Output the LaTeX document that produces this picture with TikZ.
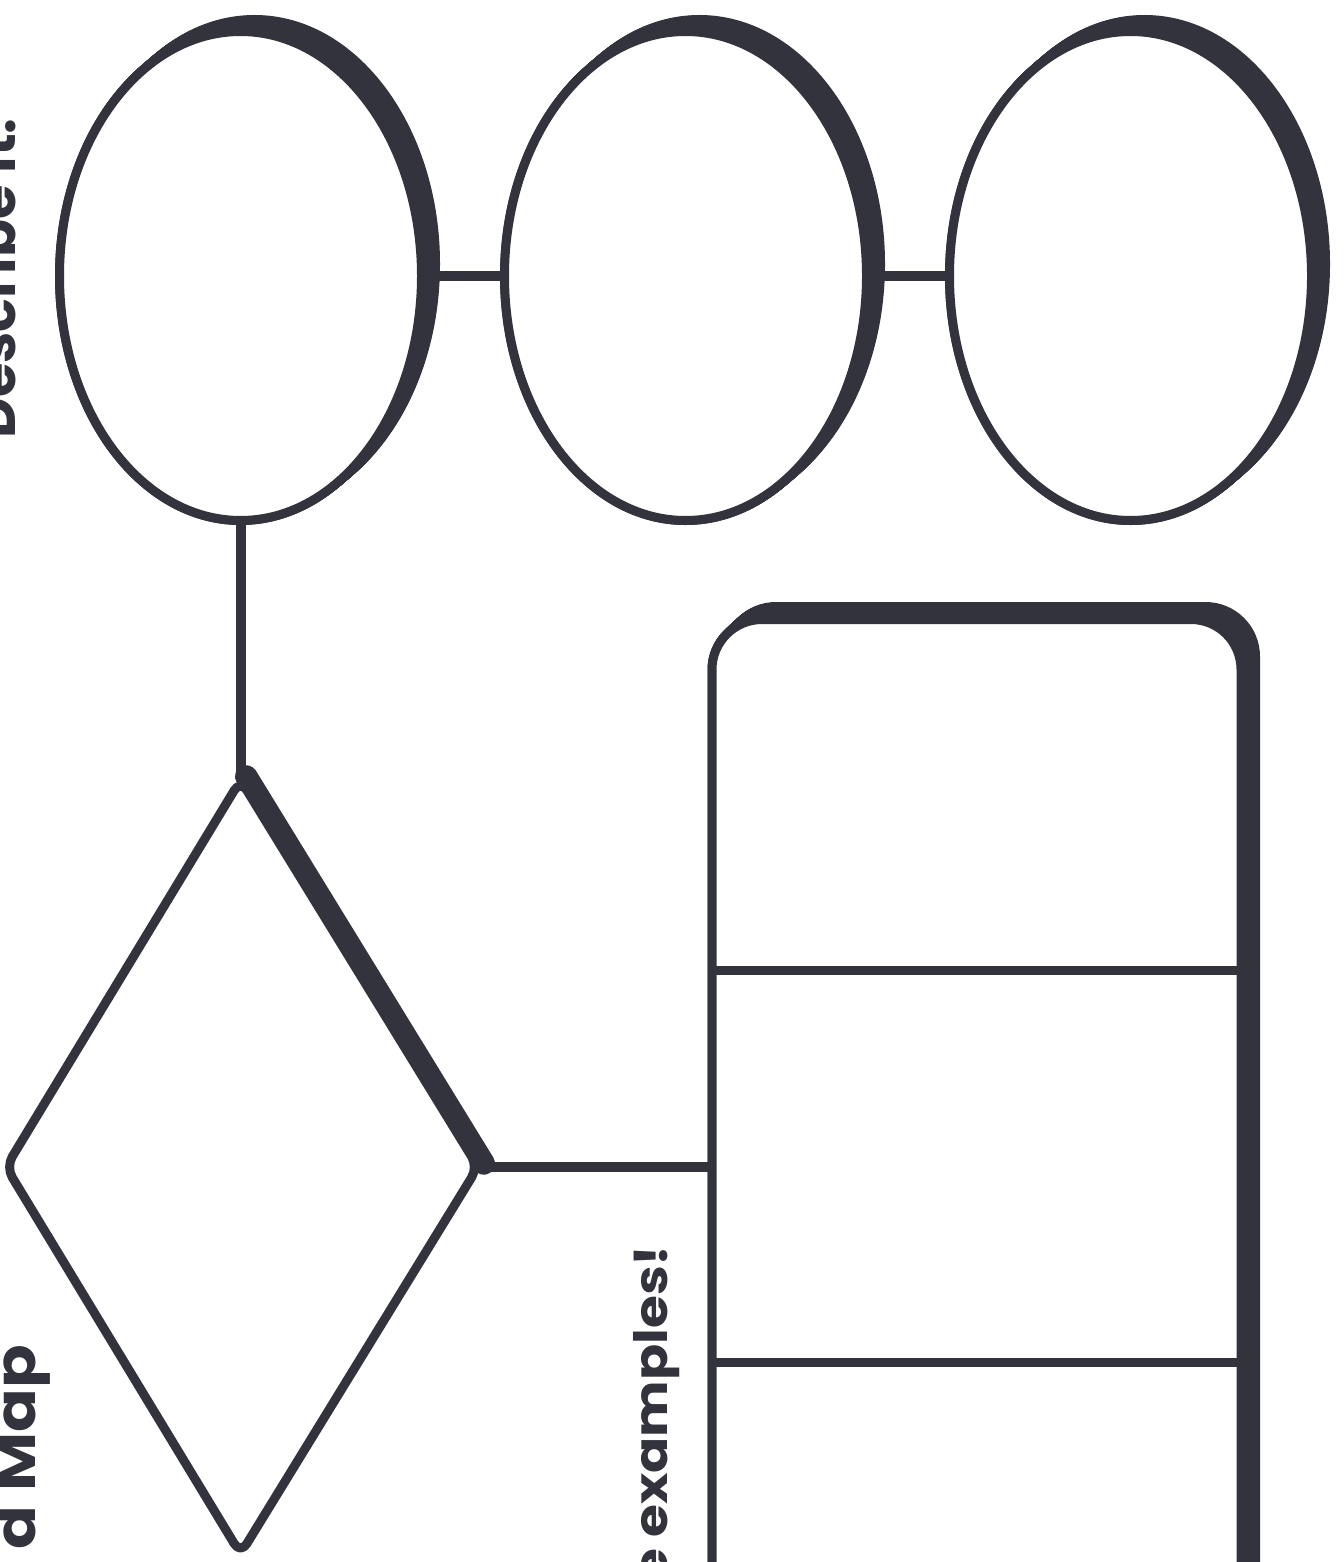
\documentclass[tikz,border=0pt]{standalone}
\usepackage{fontspec}
\usepackage{graphicx}
\newfontfamily\labfont{Poppins}
\usetikzlibrary{calc,shapes.geometric}
\definecolor{ink}{RGB}{50,51,60}
\begin{document}
\begin{tikzpicture}[x=1pt,y=-1pt,line join=round,
  outline/.style={draw=ink,line width=9pt},
  link/.style={draw=ink,line width=10pt},
  bubble/.style={outline,fill=white,ellipse,minimum width=362pt,minimum height=489pt,inner sep=0pt,outer sep=0pt},
  shadowfill/.style={fill=ink},
  biglab/.style={font=\labfont\bfseries\fontsize{56}{58}\selectfont,text=ink,inner sep=0pt,rotate=90,anchor=base east},
  smalllab/.style={font=\labfont\bfseries\fontsize{46}{48}\selectfont,text=ink,inner sep=0pt,rotate=90,anchor=base east}]
\fill[white] (0,0) rectangle (1343,1562);
\useasboundingbox (0,0) rectangle (1343,1562);
\clip (0,0) rectangle (1343,1562);

% extruded shadows of the bubbles (outer edge of the line swept up-right)
\foreach \cx in {240.5,685.5,1130.5}{
  \foreach \t in {0,0.05,...,1.001}{
    \fill[shadowfill] (\cx+14*\t,276-12*\t) ellipse [x radius=185.5, y radius=249];
  }
}
\node[bubble] (e1) at (240.5,276) {};
\node[bubble] (e2) at (685.5,276) {};
\node[bubble] (e3) at (1130.5,276) {};
\draw[link] (e1.east) -- (e2.west);
\draw[link] (e2.east) -- (e3.west);

% diamond
\coordinate (dT) at (240.5,780);
\coordinate (dR) at (478,1167);
\coordinate (dB) at (240.5,1554);
\coordinate (dL) at (6,1167);
\draw[link] (e1.south) -- (dT);
\draw[ink,line width=22.5pt,line cap=round] ($(dT)+(5.76,-3.52)$) -- ($(dR)+(5.76,-3.52)$);
\draw[outline,fill=white,rounded corners=12pt] (dT) -- (dR) -- (dB) -- (dL) -- cycle;

% box with extruded shadow
\foreach \t in {0,0.05,...,1.001}{
  \fill[shadowfill,rounded corners=54.5pt] (707.5+14*\t,615-13*\t) rectangle (1246+14*\t,1720);
}
\node[outline,fill=white,rectangle,rounded corners=50pt,minimum width=529pt,minimum height=1100pt,inner sep=0pt,outer sep=0pt,anchor=north west] (box) at (712,619.5) {};
\coordinate (r1) at (0,970);
\coordinate (r2) at (0,1362);
\draw[outline] (box.west |- r1) -- (box.east |- r1);
\draw[outline] (box.west |- r2) -- (box.east |- r2);
\draw[link] (dR) -- (dR -| box.west);

% labels
\node[biglab] (desc) at (15,118) {Describe it:};
\node[biglab] (title) at (35,1345) {\scalebox{1.15}[1]{d Map}};
\node[smalllab] (ex) at (667,1245) {\scalebox{1.16}[1]{e examples!}};
\end{tikzpicture}
\end{document}
